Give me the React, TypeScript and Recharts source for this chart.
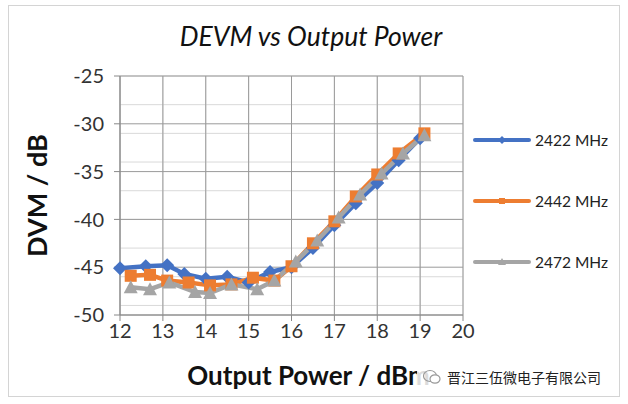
import { CartesianGrid, Line, LineChart, XAxis, YAxis } from "recharts";

// 横轴：输出功率 (dBm)，纵轴：DEVM (dB)
const xTicks = [12, 13, 14, 15, 16, 17, 18, 19, 20];
const yTicks = [-50, -45, -40, -35, -30, -25];

const x2422 = [12.0, 12.6, 13.1, 13.5, 14.0, 14.5, 15.0, 15.5, 16.0, 16.5, 17.0, 17.5, 18.0, 18.5, 19.0];
const y2422 = [-45.1, -44.9, -44.8, -45.7, -46.2, -46.0, -46.6, -45.5, -45.0, -43.0, -40.6, -38.3, -36.2, -33.8, -31.5];

const x2442 = [12.25, 12.7, 13.1, 13.6, 14.1, 14.6, 15.1, 15.6, 16.0, 16.5, 17.0, 17.5, 18.0, 18.5, 19.1];
const y2442 = [-45.9, -45.8, -46.4, -46.6, -46.9, -46.8, -46.1, -46.4, -44.9, -42.5, -40.2, -37.6, -35.3, -33.1, -31.0];

const x2472 = [12.25, 12.7, 13.15, 13.75, 14.1, 14.6, 15.2, 15.6, 16.1, 16.6, 17.1, 17.6, 18.1, 18.6, 19.1];
const y2472 = [-47.1, -47.3, -46.6, -47.6, -47.7, -46.8, -47.3, -46.4, -44.4, -42.2, -39.8, -37.4, -35.2, -33.1, -31.2];

const toRows = (xs: number[], ys: number[]) => xs.map((x, i) => ({ x, y: ys[i] }));

const series = [
  { name: "2422 MHz", color: "#4472C4", shape: "diamond", data: toRows(x2422, y2422) },
  { name: "2442 MHz", color: "#ED7D31", shape: "square", data: toRows(x2442, y2442) },
  { name: "2472 MHz", color: "#A5A5A5", shape: "triangle", data: toRows(x2472, y2472) },
];

// 网格线（次网格 0.5 dBm / 1 dB）
const minorX: number[] = [];
for (let v = 12; v <= 20; v += 0.5) minorX.push(v);
const minorY: number[] = [];
for (let v = -50; v <= -25; v += 1) minorY.push(v);

const FONT = "Lato, 'Liberation Sans', sans-serif";

function Marker({ cx, cy, shape, color, s = 7 }: any) {
  if (cx == null || cy == null) return null;
  if (shape === "diamond")
    return <polygon points={`${cx},${cy - s} ${cx + s},${cy} ${cx},${cy + s} ${cx - s},${cy}`} fill={color} />;
  if (shape === "square") return <rect x={cx - s + 1} y={cy - s + 1} width={2 * s - 2} height={2 * s - 2} fill={color} />;
  return <polygon points={`${cx},${cy - s} ${cx + s},${cy + s - 1} ${cx - s},${cy + s - 1}`} fill={color} />;
}

function LegendBox() {
  return (
    <div style={{ position: "absolute", left: 463, top: 103, fontFamily: FONT, fontSize: 15.5, color: "#222" }}>
      {series.map((s) => (
        <div key={s.name} style={{ display: "flex", alignItems: "center", height: 61 }}>
          <svg width={60} height={14}>
            <line x1={3} y1={7} x2={57} y2={7} stroke={s.color} strokeWidth={4} strokeLinecap="round" />
            <Marker cx={30} cy={7} shape={s.shape} color={s.color} s={4} />
          </svg>
          <span style={{ marginLeft: 3 }}>{s.name}</span>
        </div>
      ))}
    </div>
  );
}

export default function App() {
  return (
    <div style={{ position: "absolute", left: 8, top: 5, width: 612, height: 392, border: "1px solid #d4d4d4", background: "#fff", boxSizing: "border-box" }}>
      <div style={{ position: "absolute", left: 0, width: 604, top: 14, textAlign: "center", fontFamily: FONT, fontStyle: "italic", fontSize: 26.5, color: "#111" }}>
        DEVM vs Output Power
      </div>
      <LineChart width={610} height={390} margin={{ top: 70, right: 156, left: 0, bottom: 0 }}>
        <CartesianGrid stroke="#d9d9d9" verticalValues={minorX} horizontalValues={minorY} />
        <CartesianGrid stroke="#9a9a9a" verticalValues={xTicks} horizontalValues={yTicks} />
        <XAxis
          type="number"
          dataKey="x"
          domain={[12, 20]}
          ticks={xTicks}
          height={81}
          stroke="#888"
          tickSize={6}
          tickMargin={3}
          tick={{ fill: "#333", fontSize: 20, fontFamily: FONT }}
          label={{ value: "Output Power / dBm", position: "insideBottom", offset: 11, dx: 17, style: { fill: "#111", fontSize: 26, fontWeight: 700, fontFamily: FONT } }}
        />
        <YAxis
          type="number"
          domain={[-50, -25]}
          ticks={yTicks}
          width={111}
          stroke="#888"
          tickSize={6}
          tickMargin={10}
          tick={{ fill: "#333", fontSize: 20, fontFamily: FONT }}
          label={{ value: "DVM / dB", angle: -90, position: "insideLeft", offset: 28, style: { textAnchor: "middle", fill: "#111", fontSize: 27, fontWeight: 700, fontFamily: FONT } }}
        />
        {series.map((s) => (
          <Line
            key={s.name}
            data={s.data}
            dataKey="y"
            name={s.name}
            stroke={s.color}
            strokeWidth={4.5}
            dot={(p: any) => <Marker key={p.index} cx={p.cx} cy={p.cy} shape={s.shape} color={s.color} />}
            isAnimationActive={false}
          />
        ))}
      </LineChart>
      <LegendBox />
      <div style={{ position: "absolute", left: 408, top: 359, background: "rgba(255,255,255,0.85)", padding: "2px 6px", display: "flex", alignItems: "center", fontFamily: "'Noto Sans CJK SC', sans-serif", fontSize: 14, color: "#222" }}>
        <svg width={18} height={16} style={{ marginRight: 6 }}>
          <ellipse cx={7} cy={7} rx={6.5} ry={5.5} fill="none" stroke="#999" strokeWidth={1.2} />
          <ellipse cx={12} cy={10} rx={5} ry={4.2} fill="#fff" stroke="#999" strokeWidth={1.2} />
        </svg>
        晋江三伍微电子有限公司
      </div>
    </div>
  );
}
